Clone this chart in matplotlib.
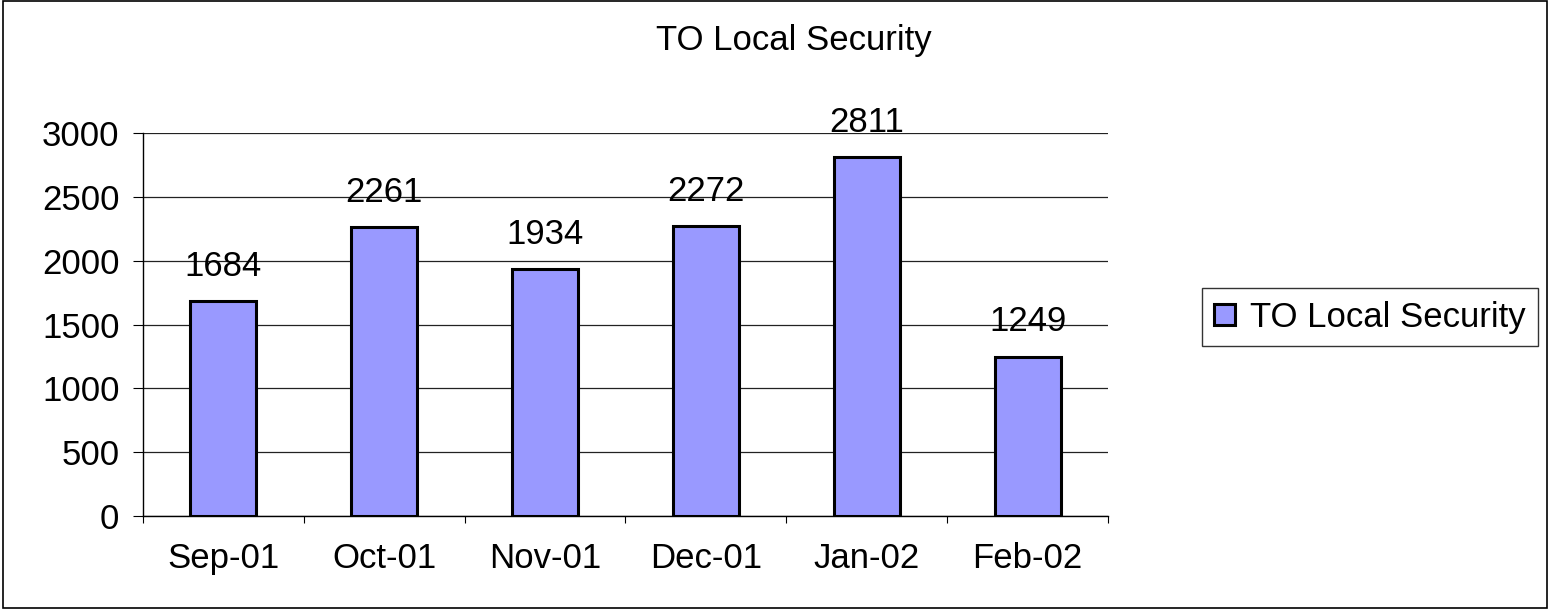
import matplotlib
matplotlib.use("Agg")
import matplotlib.pyplot as plt
from matplotlib.patches import Rectangle

months = ["Sep-01", "Oct-01", "Nov-01", "Dec-01", "Jan-02", "Feb-02"]
counts = [1684, 2261, 1934, 2272, 2811, 1249]
series_name = "TO Local Security"

plt.rcParams['font.family'] = ['Liberation Sans', 'DejaVu Sans']

fig = plt.figure(figsize=(15.5, 6.1), dpi=100)
ax = fig.add_axes([143/1550, 1 - 516/610, (1108 - 143)/1550, (516 - 133)/610])

x = list(range(len(months)))
ax.bar(x, counts, width=0.41, color="#9999FF", edgecolor="black", linewidth=2.2,
       label=series_name, zorder=3)
for xi, v in zip(x, counts):
    ax.annotate(str(v), (xi, v), xytext=(0, 13), textcoords="offset points",
                ha="center", va="bottom", fontsize=25)

ax.set_xlim(-0.5, len(months) - 0.5)
ax.set_ylim(0, 3000)
ax.set_yticks(range(0, 3001, 500))
ax.yaxis.grid(True, color="#222222", linewidth=0.9)
ax.set_axisbelow(True)

ax.set_xticks([i - 0.5 for i in range(len(months) + 1)], minor=False)
ax.set_xticklabels([])
ax.set_xticks(x, minor=True)
ax.set_xticklabels(months, minor=True)
ax.tick_params(axis="x", which="major", length=5, direction="out", color="black")
ax.tick_params(axis="x", which="minor", length=0, pad=19, labelsize=25)
ax.tick_params(axis="y", length=7, direction="out", labelsize=25, pad=10)

ax.spines["top"].set_visible(False)
ax.spines["right"].set_visible(False)
ax.spines["left"].set_linewidth(1)
ax.spines["bottom"].set_linewidth(1)

fig.text(794/1550, 1 - 50/610, series_name, ha="center", va="baseline", fontsize=25)

leg = fig.legend(loc="center", bbox_to_anchor=(1370/1550, 1 - 317/610), fontsize=25,
                 frameon=True, fancybox=False, edgecolor="black", handlelength=0.6,
                 handleheight=0.55, handletextpad=0.45, borderpad=0.35)
leg.get_frame().set_linewidth(1)

fig.patches.append(Rectangle((0.002, 0.004), 0.996, 0.994, transform=fig.transFigure,
                             fill=False, edgecolor="black", linewidth=1.2))

fig.savefig("out.png", dpi=100)
